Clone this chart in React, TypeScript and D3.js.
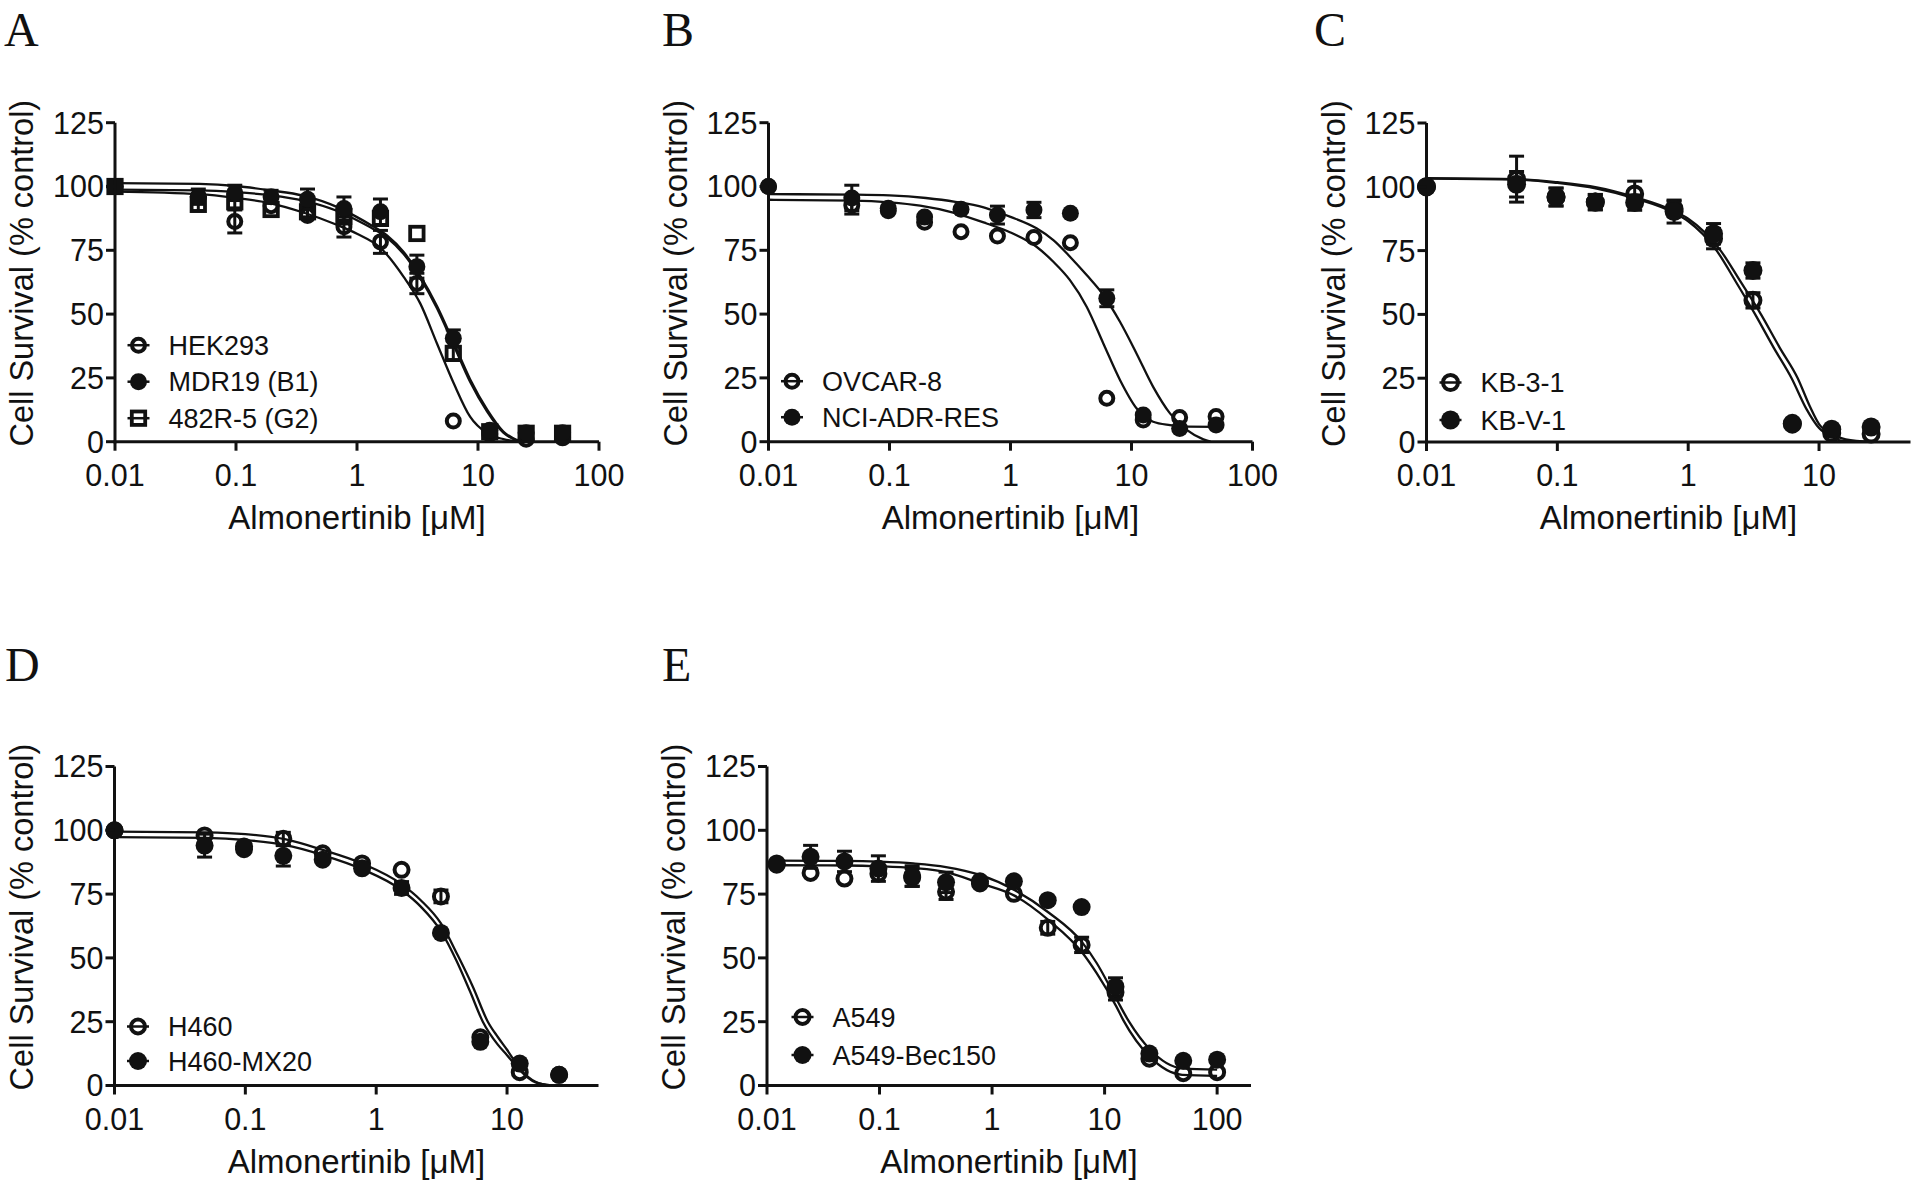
import React from "react";
import * as d3 from "d3";

// ---------------- DATA ----------------
const concAB = [0.01, 0.0488, 0.0977, 0.195, 0.39, 0.78, 1.5625, 3.125, 6.25, 12.5, 25, 50];
const concCD = [0.01, 0.0488, 0.0977, 0.195, 0.39, 0.78, 1.5625, 3.125, 6.25, 12.5, 25];
const concE = [0.0122, 0.0244, 0.0488, 0.0977, 0.195, 0.39, 0.78, 1.5625, 3.125, 6.25, 12.5, 25, 50, 100];

const yTickValues = [0, 25, 50, 75, 100, 125];
const xTicksTo100 = [0.01, 0.1, 1, 10, 100];
const xTicksTo10 = [0.01, 0.1, 1, 10];
const xTickLabels: Record<string, string> = { "0.01": "0.01", "0.1": "0.1", "1": "1", "10": "10", "100": "100" };

// Panel A
const hek293Mean = [100, 96, 86.3, 92.5, 88.6, 84.2, 78.3, 62, 8.1, 3, 1, 1.5];
const hek293Err = [0, 0, 4.5, 0, 0, 4, 4.5, 4, 0, 0, 0, 0];
const mdr19Mean = [100, 96, 97.5, 96, 95, 91.4, 90.1, 68.6, 40.5, 4.5, 3.5, 3.5];
const mdr19Err = [0, 3, 3, 2.5, 4, 4.5, 5, 4.5, 3.3, 0, 0, 0];
const r482Mean = [100, 93, 94, 91, 90.1, 88.1, 87.5, 81.6, 34.6, 3.9, 3.3, 3.3];
const r482Err = [0, 2.5, 2.5, 0, 2, 0, 0, 0, 2.5, 0, 0, 0];
const hek293Fit = [[0.01, 98], [0.05, 97], [0.1, 95.5], [0.19, 93.5], [0.36, 89.8], [0.68, 85], [1, 81.5], [1.56, 76], [2.43, 64.6], [3.33, 54.2], [4.58, 38.5], [6.3, 22.9], [8.6, 9.8], [11.9, 3.3], [16.2, 1], [22, 0]];
const mdr19Fit = [[0.01, 101.3], [0.05, 101], [0.1, 100.2], [0.19, 98.5], [0.36, 96.4], [0.68, 92], [1, 88], [1.29, 85], [1.77, 80.8], [2.43, 74.3], [3.33, 65], [4.58, 53.2], [6.3, 38.8], [8.6, 24.5], [11.9, 12.6], [16.2, 4], [22.4, 0]];
const r482Fit = [[0.01, 98.8], [0.05, 98.5], [0.1, 97.8], [0.19, 96.6], [0.36, 94.5], [0.68, 90.5], [1, 86.8], [1.29, 84], [1.77, 80], [2.43, 73.5], [3.33, 64.2], [4.58, 52.3], [6.3, 37.8], [8.6, 23.5], [11.9, 11.8], [16.2, 3.5], [22.4, 0]];

// Panel B
const ovcar8Mean = [100, 92.7, 90.5, 86, 82.3, 80.6, 80, 78, 17, 8.5, 9.5, 9.9];
const ovcar8Err = [0, 3.5, 0, 0, 0, 0, 0, 0, 0, 0, 0, 0];
const nciAdrResMean = [100, 95.5, 91.5, 88, 91.1, 88.8, 90.8, 89.5, 56.2, 10.5, 5.2, 6.5];
const nciAdrResErr = [0, 5, 0, 0, 0, 3.5, 3, 0, 3.3, 0, 0, 0];
const ovcar8Fit = [[0.01, 94.8], [0.05, 94.5], [0.1, 93.8], [0.179, 92.5], [0.336, 89.8], [0.634, 85.5], [1, 82], [1.64, 76.4], [2.26, 70.5], [3.1, 63.3], [4.26, 52.9], [5.85, 38.5], [8.03, 24.2], [11, 13.1], [15.1, 7.8], [20.8, 6.5], [28.6, 5.9], [50, 5.8]];
const nciAdrResFit = [[0.01, 97], [0.05, 96.8], [0.1, 96.5], [0.2, 95.5], [0.35, 94], [0.6, 91.8], [0.78, 90], [1, 88.1], [1.64, 83.6], [2.26, 79], [3.1, 72.5], [4.26, 65.3], [5.85, 57.5], [8.03, 47], [11, 34.6], [15.1, 21.5], [20.8, 11.1], [28.6, 4.6], [39.3, 0.9], [45, 0]];

// Panel C
const kb31Mean = [100, 103, 96, 94, 97.2, 91.4, 79.7, 55.5, 7, 3.4, 3.1];
const kb31Err = [0, 9, 3.5, 3, 5, 3, 4, 3, 0, 0, 0];
const kbv1Mean = [100, 101, 96, 94, 93.8, 90.3, 81.6, 67.2, 7.3, 5, 5.9];
const kbv1Err = [0, 5, 3.5, 3, 3, 4.5, 4, 3, 0, 0, 0];
const kb31Fit = [[0.01, 103.2], [0.05, 102.8], [0.1, 101.5], [0.2, 99.3], [0.39, 95.5], [0.78, 89.8], [1, 86.5], [1.65, 75], [2.3, 63], [3.25, 50], [4.5, 37], [6.17, 25], [8, 13], [10, 5.5], [12.5, 2], [15, 0.5], [25, 0]];
const kbv1Fit = [[0.01, 103.4], [0.05, 103], [0.1, 101.8], [0.2, 99.8], [0.39, 96], [0.78, 90.5], [1, 87.5], [1.77, 75], [2.5, 63], [3.6, 50], [5, 37], [6.87, 25], [8.5, 14], [10, 7], [12.5, 3], [16, 1], [25, 0]];

// Panel D
const h460Mean = [100, 98, 92.6, 96.7, 91, 87, 84.5, 74.1, 18.9, 5.2, 4.2];
const h460Err = [0, 0, 0, 2.5, 0, 0, 0, 2.5, 0, 0, 0];
const h460mx20Mean = [100, 94, 93.7, 90, 88.5, 85.1, 77.4, 59.8, 17.1, 8.6, 4.2];
const h460mx20Err = [0, 4.5, 0, 4, 0, 0, 2.5, 0, 0, 0, 0];
const h460Fit = [[0.01, 99.5], [0.05, 99.2], [0.1, 98.5], [0.2, 96.5], [0.39, 92.3], [0.78, 87], [1.56, 78.9], [2.2, 72.5], [3.125, 63.5], [4.2, 51], [5.5, 38.5], [7.13, 25], [8.5, 19], [10, 14], [12.5, 6.7], [16.5, 1.5], [22, 0]];
const h460mx20Fit = [[0.01, 97.3], [0.05, 97], [0.1, 96.2], [0.2, 94.3], [0.39, 90.3], [0.78, 84.8], [1.56, 76.6], [2.2, 70], [3.125, 60.5], [4.1, 49], [5.2, 37], [6.53, 25], [8.5, 16], [10, 11.9], [12.5, 6], [16.5, 1.2], [22, 0]];

// Panel E
const a549Mean = [86.5, 83.3, 81.1, 83, 81.5, 75.9, 79.2, 75.1, 61.8, 55.1, 36.5, 10.5, 4.8, 5.2];
const a549Err = [0, 0, 0, 0, 3.5, 3, 0, 0, 2.5, 3, 3, 0, 0, 0];
const bec150Mean = [87, 89.6, 87.8, 85, 82.1, 79.6, 80, 80, 72.6, 69.9, 38.7, 12.5, 9.7, 10.1];
const bec150Err = [0, 4.5, 4, 5, 4, 4, 0, 0, 0, 0, 3.5, 0, 0, 0];
const a549Fit = [[0.0122, 86.3], [0.05, 86.2], [0.1, 85.9], [0.2, 85.2], [0.39, 83.6], [0.78, 79.3], [1.58, 74.4], [3.2, 64.7], [6.35, 52], [8.5, 44], [12.7, 31], [14.7, 25.5], [25.3, 11.2], [49, 4.2], [100, 3.8]];
const bec150Fit = [[0.0122, 88.1], [0.05, 88], [0.1, 87.7], [0.2, 87], [0.39, 85.6], [0.78, 82.5], [1.58, 76.6], [3.2, 67.7], [6.35, 56], [8.5, 48], [12.7, 34], [16.5, 25], [25.3, 14.1], [49, 6.7], [100, 6.2]];

const xTitle = "Almonertinib [μM]";
const yTitle = "Cell Survival (% control)";

// ---------------- LAYOUT ----------------
const AXIS_W = 484;
const AXIS_H = 319;
const SANS = "'Liberation Sans', Arial, Helvetica, sans-serif";
const SERIF = "'Liberation Serif', 'Times New Roman', serif";
const INK = "#111";

type Kind = "openCircle" | "filledCircle" | "openSquare";
type Series = { name: string; kind: Kind; conc: number[]; mean: number[]; err: number[]; fit: number[][] };
type Panel = {
  letter: string; letterX: number; letterY: number;
  x0: number; y0: number; xMax: number; ticks: number[];
  markerR: number; legendDx: number; legendBottom: number; legendStep: number;
  series: Series[];
};

const panels: Panel[] = [
  {
    letter: "A", letterX: 4, letterY: 46, x0: 115, y0: 441.7, xMax: 100, ticks: xTicksTo100,
    markerR: 8.5, legendDx: 23.5, legendBottom: -23.5, legendStep: 36.5,
    series: [
      { name: "HEK293", kind: "openCircle", conc: concAB, mean: hek293Mean, err: hek293Err, fit: hek293Fit },
      { name: "MDR19 (B1)", kind: "filledCircle", conc: concAB, mean: mdr19Mean, err: mdr19Err, fit: mdr19Fit },
      { name: "482R-5 (G2)", kind: "openSquare", conc: concAB, mean: r482Mean, err: r482Err, fit: r482Fit },
    ],
  },
  {
    letter: "B", letterX: 662, letterY: 46, x0: 768.5, y0: 441.7, xMax: 100, ticks: xTicksTo100,
    markerR: 8.5, legendDx: 23.5, legendBottom: -24.5, legendStep: 36,
    series: [
      { name: "OVCAR-8", kind: "openCircle", conc: concAB, mean: ovcar8Mean, err: ovcar8Err, fit: ovcar8Fit },
      { name: "NCI-ADR-RES", kind: "filledCircle", conc: concAB, mean: nciAdrResMean, err: nciAdrResErr, fit: nciAdrResFit },
    ],
  },
  {
    letter: "C", letterX: 1314, letterY: 46, x0: 1426.5, y0: 442, xMax: 50, ticks: xTicksTo10,
    markerR: 9.5, legendDx: 24, legendBottom: -22, legendStep: 37.5,
    series: [
      { name: "KB-3-1", kind: "openCircle", conc: concCD, mean: kb31Mean, err: kb31Err, fit: kb31Fit },
      { name: "KB-V-1", kind: "filledCircle", conc: concCD, mean: kbv1Mean, err: kbv1Err, fit: kbv1Fit },
    ],
  },
  {
    letter: "D", letterX: 5, letterY: 681, x0: 114.5, y0: 1085.5, xMax: 50, ticks: xTicksTo10,
    markerR: 9, legendDx: 23.5, legendBottom: -24.5, legendStep: 34.5,
    series: [
      { name: "H460", kind: "openCircle", conc: concCD, mean: h460Mean, err: h460Err, fit: h460Fit },
      { name: "H460-MX20", kind: "filledCircle", conc: concCD, mean: h460mx20Mean, err: h460mx20Err, fit: h460mx20Fit },
    ],
  },
  {
    letter: "E", letterX: 662, letterY: 681, x0: 767, y0: 1085.5, xMax: 200, ticks: xTicksTo100,
    markerR: 9, legendDx: 35.5, legendBottom: -30.5, legendStep: 38,
    series: [
      { name: "A549", kind: "openCircle", conc: concE, mean: a549Mean, err: a549Err, fit: a549Fit },
      { name: "A549-Bec150", kind: "filledCircle", conc: concE, mean: bec150Mean, err: bec150Err, fit: bec150Fit },
    ],
  },
];

const kindOrder: Record<Kind, number> = { openSquare: 0, openCircle: 1, filledCircle: 2 };

function Marker({ kind, cx, cy, r }: { kind: Kind; cx: number; cy: number; r: number }) {
  if (kind === "filledCircle") return <circle cx={cx} cy={cy} r={r} fill={INK} />;
  if (kind === "openCircle")
    return <circle cx={cx} cy={cy} r={r - 2} fill="none" stroke={INK} strokeWidth={4} />;
  const s = (r - 1.8) * 2;
  return <rect x={cx - s / 2} y={cy - s / 2} width={s} height={s} fill="none" stroke={INK} strokeWidth={3.8} />;
}

function PanelView({ p, idx }: { p: Panel; idx: number }) {
  const x = d3.scaleLog().domain([0.01, p.xMax]).range([p.x0, p.x0 + AXIS_W]);
  const y = d3.scaleLinear().domain([0, 125]).range([p.y0, p.y0 - AXIS_H]);
  const line = d3
    .line<number[]>()
    .x((d) => x(d[0]))
    .y((d) => y(d[1]))
    .curve(d3.curveMonotoneX);
  const clipId = `clip-${idx}`;
  const drawOrder = [...p.series].sort((a, b) => kindOrder[a.kind] - kindOrder[b.kind]);
  const n = p.series.length;
  const yMid = (y(0) + y(125)) / 2 - 9;
  const xMid = p.x0 + AXIS_W / 2;
  return (
    <g>
      <text x={p.letterX} y={p.letterY} fontFamily={SERIF} fontSize={48} fill={INK}>
        {p.letter}
      </text>
      <clipPath id={clipId}>
        <rect x={p.x0} y={y(125)} width={AXIS_W + 2} height={AXIS_H} />
      </clipPath>
      {/* fitted curves */}
      <g clipPath={`url(#${clipId})`}>
        {p.series.map((s) => (
          <path key={s.name} d={line(s.fit) || ""} fill="none" stroke={INK} strokeWidth={2.3} />
        ))}
      </g>
      {/* error bars */}
      {drawOrder.map((s) =>
        s.conc.map((c, i) =>
          s.err[i] > 0 ? (
            <g key={`${s.name}-e-${i}`} stroke={INK} strokeWidth={3}>
              <line x1={x(c)} x2={x(c)} y1={y(s.mean[i] - s.err[i])} y2={y(s.mean[i] + s.err[i])} />
              <line x1={x(c) - 7.5} x2={x(c) + 7.5} y1={y(s.mean[i] + s.err[i])} y2={y(s.mean[i] + s.err[i])} />
              <line x1={x(c) - 7.5} x2={x(c) + 7.5} y1={y(s.mean[i] - s.err[i])} y2={y(s.mean[i] - s.err[i])} />
            </g>
          ) : null
        )
      )}
      {/* markers */}
      {drawOrder.map((s) =>
        s.conc.map((c, i) => <Marker key={`${s.name}-m-${i}`} kind={s.kind} cx={x(c)} cy={y(s.mean[i])} r={p.markerR} />)
      )}
      {/* axes */}
      <line x1={p.x0} x2={p.x0} y1={y(0) + 1.5} y2={y(125)} stroke={INK} strokeWidth={3} />
      <line x1={p.x0 - 1.5} x2={p.x0 + AXIS_W} y1={y(0)} y2={y(0)} stroke={INK} strokeWidth={3} />
      {yTickValues.map((t) => (
        <g key={`yt${t}`}>
          <line x1={p.x0 - 9} x2={p.x0} y1={y(t)} y2={y(t)} stroke={INK} strokeWidth={3} />
          <text x={p.x0 - 11} y={y(t)} dy="0.36em" textAnchor="end" fontFamily={SANS} fontSize={30.5} fill={INK}>
            {t}
          </text>
        </g>
      ))}
      {p.ticks.map((t) => (
        <g key={`xt${t}`}>
          <line x1={x(t)} x2={x(t)} y1={y(0)} y2={y(0) + 9} stroke={INK} strokeWidth={3} />
          <text x={x(t)} y={y(0) + 44} textAnchor="middle" fontFamily={SANS} fontSize={30.5} fill={INK}>
            {xTickLabels[String(t)]}
          </text>
        </g>
      ))}
      <text x={xMid} y={y(0) + 87} textAnchor="middle" fontFamily={SANS} fontSize={33} fill={INK}>
        {xTitle}
      </text>
      <text
        transform={`translate(${p.x0 - 82},${yMid}) rotate(-90)`}
        textAnchor="middle"
        fontFamily={SANS}
        fontSize={32.5}
        fill={INK}
      >
        {yTitle}
      </text>
      {/* legend */}
      {p.series.map((s, i) => {
        const ly = p.y0 + p.legendBottom - p.legendStep * (n - 1 - i);
        const lx = p.x0 + p.legendDx;
        return (
          <g key={`lg-${s.name}`}>
            <line x1={lx - 11} x2={lx + 11} y1={ly} y2={ly} stroke={INK} strokeWidth={2.5} />
            <Marker kind={s.kind} cx={lx} cy={ly} r={p.markerR} />
            <text x={lx + 30} y={ly} dy="0.36em" fontFamily={SANS} fontSize={27} fill={INK}>
              {s.name}
            </text>
          </g>
        );
      })}
    </g>
  );
}

export default function App() {
  return (
    <svg
      width={1920}
      height={1192}
      viewBox="0 0 1920 1192"
      style={{ position: "absolute", left: 0, top: 0, background: "#fff" }}
    >
      <rect x={0} y={0} width={1920} height={1192} fill="#fff" />
      {panels.map((p, i) => (
        <PanelView key={p.letter} p={p} idx={i} />
      ))}
    </svg>
  );
}
